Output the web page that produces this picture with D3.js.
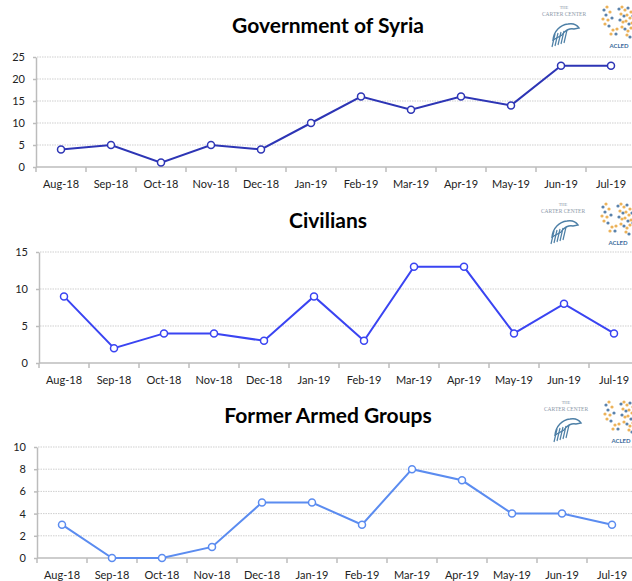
<!DOCTYPE html>
<html>
<head>
<meta charset="utf-8">
<script src="https://cdn.jsdelivr.net/npm/d3@7"></script>
<style>
  body { margin: 0; background: #fff; }
  svg { display: block; font-family: Lato, "Open Sans", sans-serif; }
  .title { font-weight: bold; font-size: 21px; fill: #000; }
  .axis text { font-size: 11px; fill: #222; font-family: Lato, "Open Sans", sans-serif; }
  .axis path, .axis line { stroke: #bcbcbc; stroke-width: 1.5; }
  .grid { stroke: #cfcfcf; stroke-width: 1; stroke-dasharray: 1.5,1; }
</style>
</head>
<body>
<div id="chart"></div>
<script>
// data
var months = ['Aug-18', 'Sep-18', 'Oct-18', 'Nov-18', 'Dec-18', 'Jan-19',
              'Feb-19', 'Mar-19', 'Apr-19', 'May-19', 'Jun-19', 'Jul-19'];
var govEvents = [4, 5, 1, 5, 4, 10, 16, 13, 16, 14, 23, 23];
var civEvents = [9, 2, 4, 4, 3, 9, 3, 13, 13, 4, 8, 4];
var fagEvents = [3, 0, 0, 1, 5, 5, 3, 8, 7, 4, 4, 3];
var govTicks = [0, 5, 10, 15, 20, 25];
var civTicks = [0, 5, 10, 15];
var fagTicks = [0, 2, 4, 6, 8, 10];
var titles = ['Government of Syria', 'Civilians', 'Former Armed Groups'];

var width = 632, height = 581;
var bandWidth = 50;

// layout for each panel
var panels = [
  { title: titles[0], values: govEvents, ticks: govTicks, color: '#2d35b5',
    left: 36, top: 57, bottom: 167, titleY: 33, logoY: 0, logoX: 0 },
  { title: titles[1], values: civEvents, ticks: civTicks, color: '#3a44f2',
    left: 39, top: 252, bottom: 363, titleY: 228, logoY: 197, logoX: -1 },
  { title: titles[2], values: fagEvents, ticks: fagTicks, color: '#5b8cf0',
    left: 37, top: 447, bottom: 558, titleY: 423, logoY: 395, logoX: 2 }
];

var svg = d3.select('#chart').append('svg')
  .attr('width', width)
  .attr('height', height);

// small dot pattern used for the ACLED mark
var acledDots = [
  [4, 6, 'b'], [7, 3, 'o'], [10, 8, 'o'], [6, 11, 'b'], [3, 15, 'o'], [8, 16, 'o'],
  [12, 14, 'b'], [5, 20, 'o'], [9, 22, 'b'], [13, 26, 'o'], [16, 30, 'b'], [19, 5, 'b'],
  [22, 3, 'o'], [25, 6, 'o'], [28, 4, 'b'], [31, 8, 'o'], [21, 10, 'o'], [24, 12, 'b'],
  [27, 11, 'o'], [30, 14, 'o'], [33, 12, 'b'], [20, 16, 'b'], [23, 18, 'o'], [26, 17, 'o'],
  [29, 20, 'b'], [32, 19, 'o'], [22, 23, 'o'], [25, 25, 'b'], [28, 27, 'o'], [31, 24, 'o'],
  [34, 22, 'b'], [27, 31, 'o'], [30, 33, 'b'], [17, 25, 'o'], [11, 30, 'o']
];

function drawLogos(g, dx, dy) {
  var carter = g.append('g').attr('transform', 'translate(' + (564 + dx) + ',' + dy + ')');
  carter.append('text').text('THE')
    .attr('x', 0).attr('y', 9)
    .attr('text-anchor', 'middle')
    .style('font-family', '"Liberation Serif", serif')
    .style('font-size', '4.5px').style('fill', '#8c98a8');
  carter.append('text').text('CARTER CENTER')
    .attr('x', 0).attr('y', 16)
    .attr('text-anchor', 'middle')
    .style('font-family', '"Liberation Serif", serif')
    .style('font-size', '5.5px').style('fill', '#8c98a8');
  // rough eagle head
  carter.append('path')
    .attr('d', 'M-11,40 C-10,31 -4,25 4,24 C9,23 13,25 15,28 L10,29 C6,28 1,30 -2,35 Z')
    .style('fill', 'none').style('stroke', '#4d7fa6').style('stroke-width', 1.4);
  [-9, -6, -3, 0, 3].forEach(function(o, i) {
    carter.append('line')
      .attr('x1', o).attr('y1', 34 - i)
      .attr('x2', o - 3).attr('y2', 47 - i)
      .style('stroke', '#4d7fa6').style('stroke-width', 1.2);
  });

  var acled = g.append('g').attr('transform', 'translate(' + (600 + dx) + ',' + (dy + 4) + ')');
  acled.selectAll('circle').data(acledDots).enter()
    .append('circle')
    .attr('cx', function(d) { return d[0]; })
    .attr('cy', function(d) { return d[1]; })
    .attr('r', 1.6)
    .style('fill', function(d) { return d[2] == 'o' ? '#e9a43c' : '#3d6c9c'; })
    .style('opacity', 0.85);
  acled.append('text').text('ACLED')
    .attr('x', 19).attr('y', 44)
    .attr('text-anchor', 'middle')
    .style('font-size', '6px').style('font-weight', 'bold')
    .style('fill', '#3d6c9c');
}

panels.forEach(function(p) {
  var g = svg.append('g');

  var x = d3.scaleBand()
    .domain(months)
    .range([p.left, p.left + bandWidth * months.length]);
  var y = d3.scaleLinear()
    .domain([0, d3.max(p.ticks)])
    .range([p.bottom, p.top]);

  // title
  g.append('text').classed('title', true)
    .text(p.title)
    .attr('x', 328)
    .attr('y', p.titleY)
    .attr('text-anchor', 'middle');

  drawLogos(g, p.logoX, p.logoY);

  // dotted gridlines
  g.selectAll('.grid').data(p.ticks.filter(function(t) { return t > 0; }))
    .enter().append('line').classed('grid', true)
    .attr('x1', p.left + 1).attr('x2', width)
    .attr('y1', function(d) { return y(d); })
    .attr('y2', function(d) { return y(d); });

  // y axis
  g.append('g').classed('axis', true)
    .attr('transform', 'translate(' + p.left + ',0)')
    .call(d3.axisLeft(y).tickValues(p.ticks).tickSize(3).tickSizeOuter(0).tickPadding(8));

  // x axis, labels in the middle of each band
  var xAxis = g.append('g').classed('axis', true)
    .attr('transform', 'translate(0,' + p.bottom + ')')
    .call(d3.axisBottom(x).tickSize(0).tickPadding(13));
  xAxis.select('.domain').attr('d', 'M' + p.left + ',0H' + width);

  // tick marks between the bands
  xAxis.selectAll('.band-tick').data(months)
    .enter().append('line').classed('band-tick', true)
    .attr('x1', function(d) { return x(d); })
    .attr('x2', function(d) { return x(d); })
    .attr('y1', 0).attr('y2', 5);

  var pts = p.values.map(function(v, i) { return [months[i], v]; });

  var line = d3.line()
    .x(function(d) { return x(d[0]) + x.bandwidth() / 2; })
    .y(function(d) { return y(d[1]); });

  g.append('path')
    .datum(pts)
    .attr('d', line)
    .style('fill', 'none')
    .style('stroke', p.color)
    .style('stroke-width', 2);

  g.selectAll('.dot').data(pts).enter()
    .append('circle').classed('dot', true)
    .attr('cx', function(d) { return x(d[0]) + x.bandwidth() / 2; })
    .attr('cy', function(d) { return y(d[1]); })
    .attr('r', 3.5)
    .style('fill', '#fff')
    .style('stroke', p.color)
    .style('stroke-width', 1.5);
});
</script>
</body>
</html>
